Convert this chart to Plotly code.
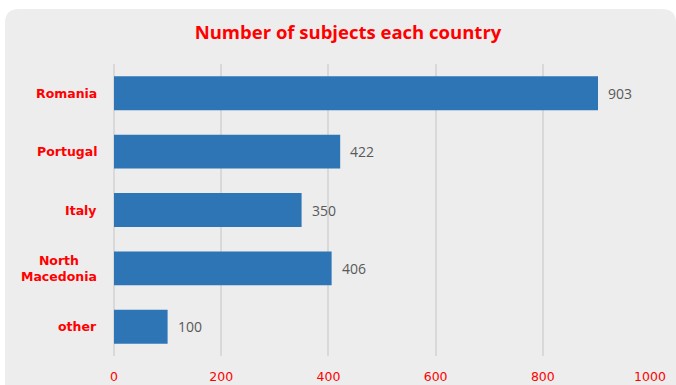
import plotly.graph_objects as go

# Subjects per country
countries = ["Romania", "Portugal", "Italy", "North<br>Macedonia", "other"]
subjects = [903, 422, 350, 406, 100]
x_ticks = [0, 200, 400, 600, 800, 1000]

W, H = 676, 385
L, R, T, B = 114, 650, 64, 356  # plot area in pixels

def px_x(p):
    return (p - L) / (R - L)

def px_y(p):
    return (B - p) / (B - T)

fig = go.Figure()
fig.add_trace(go.Bar(
    y=countries, x=subjects, orientation="h",
    marker=dict(color="#2E75B6", line=dict(width=0)),
    width=0.58, hoverinfo="skip",
))

# rounded grey card behind the chart
x0, x1, y0, y1, r = 5, 676, 9, 420, 14
path = (f"M {px_x(x0)},{px_y(y0 + r)} "
        f"Q {px_x(x0)},{px_y(y0)} {px_x(x0 + r)},{px_y(y0)} "
        f"L {px_x(x1 - r)},{px_y(y0)} "
        f"Q {px_x(x1)},{px_y(y0)} {px_x(x1)},{px_y(y0 + r)} "
        f"L {px_x(x1)},{px_y(y1)} L {px_x(x0)},{px_y(y1)} Z")
fig.add_shape(type="path", path=path, xref="paper", yref="paper",
              fillcolor="#EDEDED", line=dict(width=0), layer="below")

annotations = []
for c, v in zip(countries, subjects):
    annotations.append(dict(x=v, y=c, xref="x", yref="y", text=str(v),
                            showarrow=False, xanchor="left", xshift=8,
                            font=dict(family="Open Sans", size=14, color="#595959")))
    label = "<b>" + c.replace("<br>", "</b><br><b>") + "</b>"
    annotations.append(dict(x=0, y=c, xref="paper", yref="y", text=label,
                            showarrow=False, xanchor="right", xshift=-15,
                            align="center",
                            font=dict(family="DejaVu Sans", size=12.5, color="#FF0000")))

fig.update_layout(
    width=W, height=H,
    margin=dict(l=L, r=W - R, t=T, b=H - B, autoexpand=False),
    paper_bgcolor="white", plot_bgcolor="rgba(0,0,0,0)",
    showlegend=False,
    title=dict(text="<b>Number of subjects each country</b>", x=348 / W,
               xref="container", xanchor="center", y=1 - 33 / H,
               yref="container", yanchor="middle",
               font=dict(family="Open Sans", size=18.5, color="#FF0000")),
    xaxis=dict(range=[0, 1000], tickvals=x_ticks, showgrid=True,
               gridcolor="#D9D9D9", gridwidth=2, zeroline=True,
               zerolinecolor="#D9D9D9", zerolinewidth=2, showline=False,
               ticks="", ticklabelstandoff=11, automargin=False,
               tickfont=dict(family="DejaVu Sans", size=12.5, color="#FF0000")),
    yaxis=dict(autorange="reversed", showticklabels=False, showgrid=False,
               zeroline=False, showline=False, ticks="", automargin=False),
    annotations=annotations,
)
fig.update_xaxes(layer="below traces")

fig.write_html("out.html")
